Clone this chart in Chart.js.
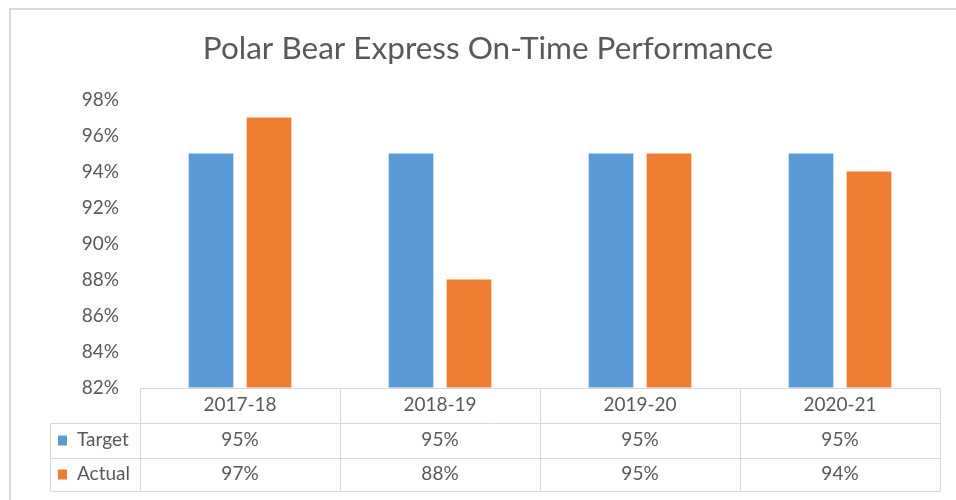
<!DOCTYPE html>
<html>
<head>
<meta charset="utf-8">
<script src="https://cdn.jsdelivr.net/npm/chart.js@4"></script>
<style>
  html, body { margin: 0; padding: 0; background: #ffffff; }
  #wrap { width: 956px; height: 500px; position: relative; }
</style>
</head>
<body>
<div id="wrap"><canvas id="c" width="956" height="500"></canvas></div>
<script>
const categories = ['2017-18', '2018-19', '2019-20', '2020-21'];
const targetValues = [95, 95, 95, 95];
const actualValues = [97, 88, 95, 94];
const seriesNames = ['Target', 'Actual'];
const yTicks = [82, 84, 86, 88, 90, 92, 94, 96, 98];
const titleText = 'Polar Bear Express On-Time Performance';

const FONT = 'Lato, "Open Sans", sans-serif';
const TEXT = '#595959';
const LINE = '#d9d9d9';

const frame = {
  id: 'frame',
  beforeDraw(chart) {
    const ctx = chart.ctx;
    ctx.save();
    ctx.strokeStyle = '#d9d9d9';
    ctx.lineWidth = 2;
    ctx.strokeRect(10, 9, 1000, 1000);
    ctx.restore();
  }
};

const dataTable = {
  id: 'dataTable',
  afterDraw(chart) {
    const ctx = chart.ctx;
    const xs = chart.scales.x;
    const area = chart.chartArea;
    const n = categories.length;
    const catW = (area.right - area.left) / n;
    const top = Math.round(area.bottom) + 0.5;
    const rows = [top, top + 35, top + 70, top + 103];
    const legendLeft = 50.5;
    ctx.save();
    ctx.strokeStyle = LINE;
    ctx.lineWidth = 1;
    ctx.beginPath();
    ctx.moveTo(area.left, rows[0]); ctx.lineTo(area.right, rows[0]);
    for (let r = 1; r < rows.length; r++) {
      ctx.moveTo(legendLeft, rows[r]); ctx.lineTo(area.right, rows[r]);
    }
    for (let i = 0; i <= n; i++) {
      const x = Math.round(xs.getPixelForValue(Math.min(i, n - 1)) + (i === n ? catW / 2 : -catW / 2)) + 0.5;
      ctx.moveTo(x, rows[0]); ctx.lineTo(x, rows[3]);
    }
    ctx.moveTo(legendLeft, rows[1]); ctx.lineTo(legendLeft, rows[3]);
    ctx.stroke();

    ctx.fillStyle = TEXT;
    ctx.font = '19px ' + FONT;
    ctx.textAlign = 'center';
    ctx.textBaseline = 'middle';
    categories.forEach((c, i) => {
      const x = xs.getPixelForValue(i);
      ctx.fillText(c, x, (rows[0] + rows[1]) / 2 - 1.5);
    });
    chart.data.datasets.forEach((ds, d) => {
      const yMid = (rows[d + 1] + rows[d + 2]) / 2 - 1.5;
      ds.data.forEach((v, i) => {
        ctx.fillStyle = TEXT;
        ctx.textAlign = 'center';
        ctx.fillText(v + '%', xs.getPixelForValue(i), yMid);
      });
      ctx.fillStyle = ds.backgroundColor;
      ctx.fillRect(58, yMid - 4, 9, 10);
      ctx.fillStyle = TEXT;
      ctx.textAlign = 'left';
      ctx.fillText(ds.label, 77, yMid);
    });
    ctx.restore();
  }
};

new Chart(document.getElementById('c'), {
  type: 'bar',
  data: {
    labels: categories,
    datasets: [
      { label: seriesNames[0], data: targetValues, backgroundColor: '#5b9bd5', categoryPercentage: 0.58, barPercentage: 0.77 },
      { label: seriesNames[1], data: actualValues, backgroundColor: '#ed7d31', categoryPercentage: 0.58, barPercentage: 0.77 }
    ]
  },
  options: {
    responsive: false,
    devicePixelRatio: 1,
    animation: false,
    layout: { padding: { left: 36, right: 16, top: 0, bottom: 0 } },
    plugins: {
      legend: { display: false },
      tooltip: { enabled: false },
      title: {
        display: true,
        text: titleText,
        color: TEXT,
        font: { family: FONT, size: 31.5, weight: 'normal' },
        padding: { top: 30, bottom: 31.7 }
      }
    },
    scales: {
      x: {
        grid: { display: false },
        border: { display: false },
        ticks: { display: false },
        afterFit(s) { s.height = 112.5; }
      },
      y: {
        min: 82,
        max: 98,
        afterBuildTicks(s) { s.ticks = yTicks.map(v => ({ value: v })); },
        grid: { display: false, drawTicks: false },
        border: { display: false },
        ticks: {
          padding: 21,
          color: TEXT,
          font: { family: FONT, size: 19 },
          callback: v => v + '%'
        },
        afterFit(s) { s.width = 104; }
      }
    }
  },
  plugins: [frame, dataTable]
});
</script>
</body>
</html>
